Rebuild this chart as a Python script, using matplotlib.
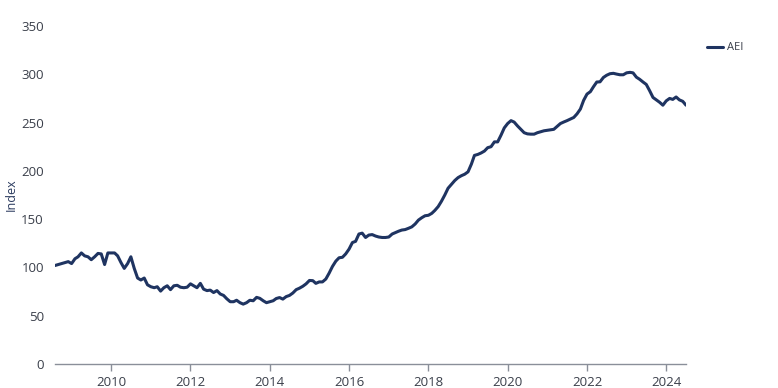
import matplotlib
matplotlib.use("Agg")
import matplotlib.pyplot as plt
import pandas as pd

plt.rcParams['font.family'] = ['Open Sans', 'DejaVu Sans']

start = "2008-08"
v2008 = [102, 103, 104, 105, 106]
v2009 = [104, 109, 111, 115, 112, 111, 108, 111, 114.5, 114, 103, 115]
v2010 = [115, 115, 112, 105, 99, 104, 111, 99, 89, 87, 89, 82]
v2011 = [80, 79, 80, 75.5, 79, 81, 77, 81, 81.5, 79.5, 79, 79.5]
v2012 = [83, 81, 79, 83.5, 77.5, 76, 76.5, 74, 76, 72.5, 71, 67.5]
v2013 = [64.5, 64.5, 66, 63.5, 62, 63.5, 66, 65.5, 69, 68, 65.5, 63.5]
v2014 = [64.5, 65.5, 67.8, 68.8, 67.2, 69.8, 71, 73.5, 77, 78.5, 80.5, 83]
v2015 = [86.5, 86.3, 83.5, 85, 85, 88, 94, 101, 106.5, 110, 110.5, 114]
v2016 = [119, 125.8, 127, 134.6, 135.5, 131, 133.5, 134, 132.5, 131.5, 131, 131]
v2017 = [131.5, 134.6, 136, 137.5, 138.7, 139.2, 140.5, 142, 145, 149, 151.5, 153.5]
v2018 = [154, 156, 159, 163, 168.5, 175, 182, 186, 190, 193, 195, 196.5]
v2019 = [199, 207, 216, 217, 218.5, 220.5, 224, 225, 230, 230, 237, 244.5]
v2020 = [249, 252, 250.5, 246.5, 243, 239.5, 238.3, 238, 238, 239.5, 240.5, 241.5]
v2021 = [242, 242.4, 243, 246, 249, 250.6, 252, 253.7, 255.3, 259, 264, 273]
v2022 = [279.5, 282, 287, 292, 292.2, 296.7, 299, 300.6, 301, 300.2, 299.5, 299.5]
v2023 = [301.5, 302, 301.5, 297, 294.8, 292, 289.5, 283, 276, 273.5, 271, 268]
v2024 = [272.5, 275, 274, 276.5, 273.5, 272, 268]

values = (v2008 + v2009 + v2010 + v2011 + v2012 + v2013 + v2014 + v2015 +
          v2016 + v2017 + v2018 + v2019 + v2020 + v2021 + v2022 + v2023 + v2024)
dates = pd.date_range(start=start, periods=len(values), freq="MS")
years = [2010, 2012, 2014, 2016, 2018, 2020, 2022, 2024]
yticks = [0, 50, 100, 150, 200, 250, 300, 350]
series_name = "AEI"

fig = plt.figure(figsize=(7.78, 3.88), dpi=100)
ax = fig.add_axes([55/778, 24/388, (686-55)/778, (364-26)/388])
line_color = "#1f3461"
ax.plot(dates, values, color=line_color, lw=2.2, label=series_name,
        solid_joinstyle="round", solid_capstyle="round")

ax.set_ylim(0, 350)
ax.set_xlim(dates[0], dates[-1])
ax.set_yticks(yticks)
ax.set_xticks([pd.Timestamp(f"{y}-01-01") for y in years])
ax.set_xticklabels([str(y) for y in years])

for s in ["top", "right", "left"]:
    ax.spines[s].set_visible(False)
ax.spines["bottom"].set_color("#8a8f99")
ax.spines["bottom"].set_linewidth(1.0)
ax.tick_params(axis="y", length=0, pad=8, labelsize=9.5, labelcolor="#3a3f4a")
ax.tick_params(axis="x", length=5, width=1, color="#8a8f99", pad=4,
               labelsize=9.5, labelcolor="#3a3f4a")
ax.set_ylabel("Index", fontsize=9, color="#2a3a5e")
ax.yaxis.set_label_coords((18 - 55) / 631, 0.5)

leg = fig.legend(loc="center left", bbox_to_anchor=(697/778, 1 - 48/388),
                 frameon=False, fontsize=8, handlelength=1.4, handletextpad=0.4,
                 labelcolor="#3a3f4a")

fig.savefig("out.png", dpi=100)
